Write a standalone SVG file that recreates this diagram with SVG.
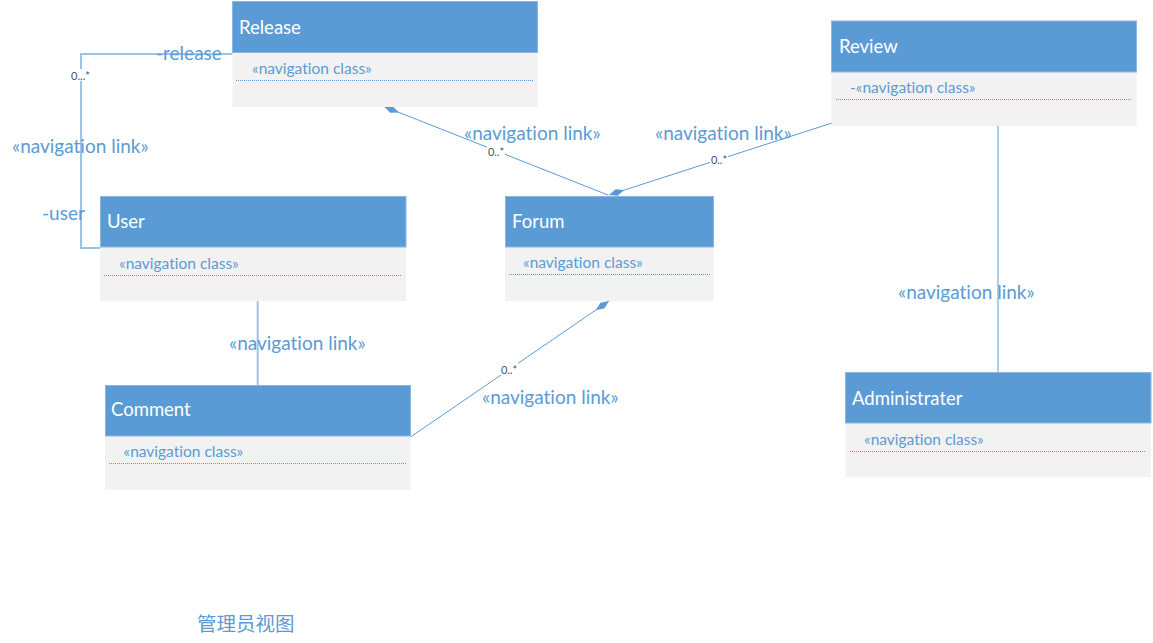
<svg xmlns="http://www.w3.org/2000/svg" width="1153" height="643" viewBox="0 0 1153 643">
<style>
text{font-variant-ligatures:none}
.hd{fill:#5B9BD5;stroke:#8DB6E2;stroke-width:1}
.bd{fill:#F2F2F2}
.tt{font-family:Lato,"Open Sans",sans-serif;font-size:18.5px;fill:#FFFFFF;dominant-baseline:central}
.st{font-family:Lato,"Open Sans",sans-serif;font-size:15.5px;fill:#5B9BD5;dominant-baseline:central}
.dl{stroke:#5B9BD5;stroke-width:1;stroke-dasharray:1 1;fill:none}
.ln{stroke:#5B9BD5;stroke-width:1;fill:none}
.lt{stroke:#9DC3E6;stroke-width:2;fill:none}
.lb{font-family:Lato,"Open Sans",sans-serif;font-size:19px;fill:#5B9BD5;dominant-baseline:central}
.mu{font-family:Lato,"Open Sans",sans-serif;font-size:11px;fill:#44546A;dominant-baseline:central;text-anchor:middle}
.bg{fill:#FFFFFF}
</style>
<defs>
<marker id="dia" markerUnits="userSpaceOnUse" viewBox="0 -4 16 8" markerWidth="16" markerHeight="8" refX="16" refY="0" orient="auto" overflow="visible">
<path d="M0,0 L8,-3.5 L16,0 L8,3.5 Z" fill="#5B9BD5"/>
</marker>
</defs>
<rect width="1153" height="643" fill="#FFFFFF"/>

<g id="connectors">
<path class="lt" d="M232.5,54 H81 V248 H100"/>
<rect class="bg" x="69" y="69" width="23" height="12"/>
<text class="mu" x="80.5" y="75">0...*</text>
<text class="lb" x="156" y="52">-release</text>
<text class="lb" x="42" y="212">-user</text>
<text class="lb" x="12" y="145">«navigation link»</text>

<path class="ln" d="M608,195 L384,106.5" marker-end="url(#dia)"/>
<rect class="bg" x="487" y="145" width="18" height="12"/>
<text class="mu" x="496" y="151">0..*</text>
<text class="lb" x="464" y="132">«navigation link»</text>

<path class="ln" d="M832,123 L609,195" marker-end="url(#dia)"/>
<rect class="bg" x="710" y="153" width="18" height="12"/>
<text class="mu" x="719" y="159">0..*</text>
<text class="lb" x="655" y="132">«navigation link»</text>

<path class="ln" d="M998,126 V372"/>
<text class="lb" x="898" y="291">«navigation link»</text>

<path class="lt" d="M257.7,301 V385"/>
<text class="lb" x="229" y="342">«navigation link»</text>

<path class="ln" d="M410.5,437 L609,301" marker-end="url(#dia)"/>
<rect class="bg" x="500" y="363" width="18" height="12"/>
<text class="mu" x="509" y="369">0..*</text>
<text class="lb" x="482" y="396">«navigation link»</text>
</g>

<g id="Release">
<rect class="bd" x="232.5" y="52.5" width="305" height="54.5"/>
<rect class="hd" x="232.5" y="1.5" width="305" height="51"/>
<text class="tt" x="239" y="27">Release</text>
<text class="st" x="252" y="68">«navigation class»</text>
<line class="dl" x1="236" y1="80.5" x2="533" y2="80.5"/>
</g>

<g id="User">
<rect class="bd" x="100" y="247" width="306" height="54"/>
<rect class="hd" x="100.5" y="196.5" width="305.5" height="50.5"/>
<text class="tt" x="107" y="221">User</text>
<text class="st" x="119" y="263">«navigation class»</text>
<line class="dl" x1="104" y1="275.5" x2="401" y2="275.5"/>
</g>

<g id="Forum">
<rect class="bd" x="505" y="247" width="208.5" height="54"/>
<rect class="hd" x="505.5" y="196.5" width="208" height="50.5"/>
<text class="tt" x="512" y="221">Forum</text>
<text class="st" x="523" y="262">«navigation class»</text>
<line class="dl" x1="509" y1="274.5" x2="710" y2="274.5"/>
</g>

<g id="Review">
<rect class="bd" x="831.5" y="72" width="305" height="54"/>
<rect class="hd" x="831.5" y="21" width="305" height="51"/>
<text class="tt" x="839" y="46">Review</text>
<text class="st" x="850" y="87">-«navigation class»</text>
<line class="dl" x1="836" y1="99.5" x2="1132" y2="99.5"/>
</g>

<g id="Administrater">
<rect class="bd" x="845.5" y="423" width="305.5" height="54"/>
<rect class="hd" x="845.5" y="372.5" width="305.5" height="50.5"/>
<text class="tt" x="852" y="398">Administrater</text>
<text class="st" x="864" y="439">«navigation class»</text>
<line class="dl" x1="850" y1="451.5" x2="1146" y2="451.5"/>
</g>

<g id="Comment">
<rect class="bd" x="105" y="436" width="305.5" height="54"/>
<rect class="hd" x="105.5" y="385.5" width="305" height="50.5"/>
<text class="tt" x="111" y="409">Comment</text>
<text class="st" x="123.5" y="451">«navigation class»</text>
<line class="dl" x1="109" y1="463.5" x2="406" y2="463.5"/>
</g>

<text x="197" y="622" font-family="'Noto Sans CJK SC',sans-serif" font-size="19.5px" fill="#5B9BD5" dominant-baseline="central">管理员视图</text>
</svg>
